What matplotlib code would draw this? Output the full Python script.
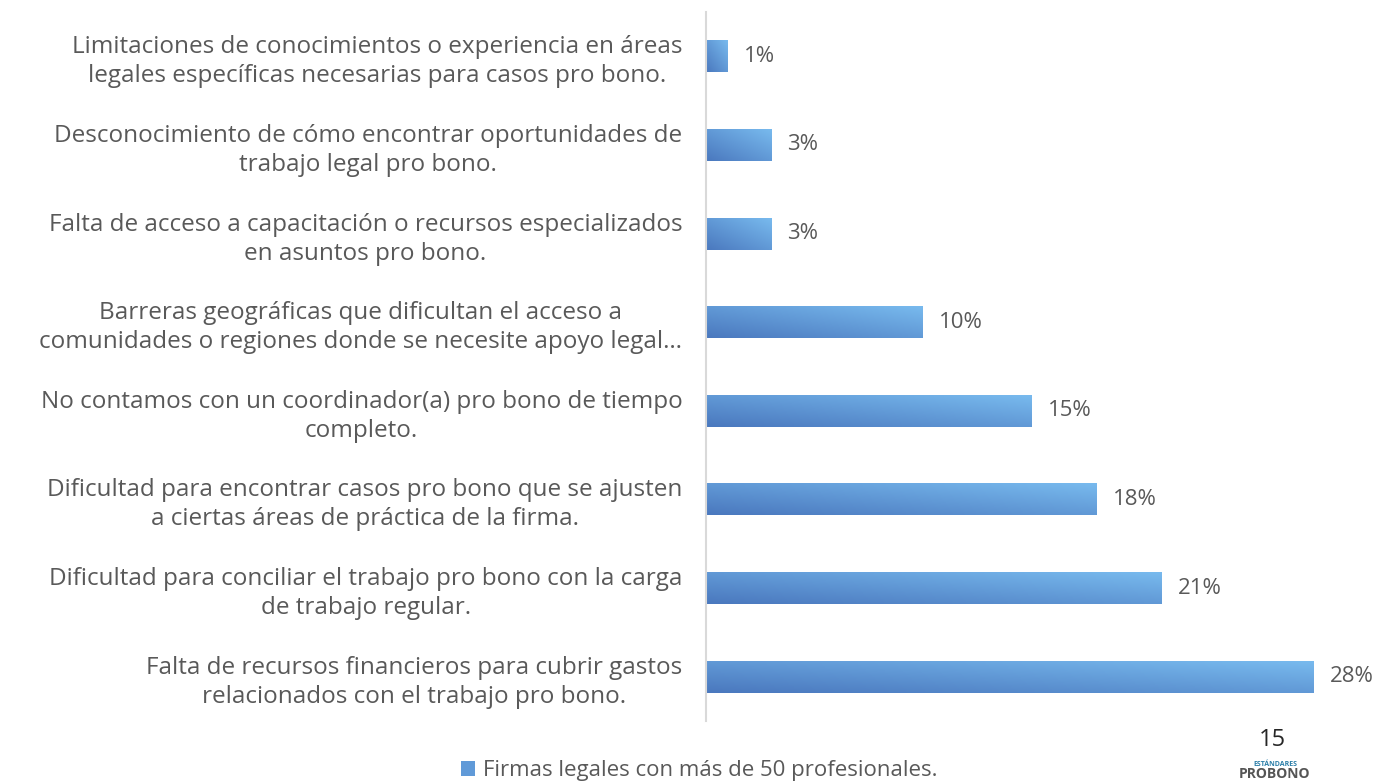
import numpy as np
import matplotlib.pyplot as plt
from matplotlib.patches import Patch
from matplotlib.colors import LinearSegmentedColormap

plt.rcParams['font.family'] = ['Open Sans', 'DejaVu Sans']

categories = [
    "Limitaciones de conocimientos o experiencia en áreas\nlegales específicas necesarias para casos pro bono.",
    "Desconocimiento de cómo encontrar oportunidades de\ntrabajo legal pro bono.",
    "Falta de acceso a capacitación o recursos especializados\nen asuntos pro bono.",
    "Barreras geográficas que dificultan el acceso a\ncomunidades o regiones donde se necesite apoyo legal…",
    "No contamos con un coordinador(a) pro bono de tiempo\ncompleto.",
    "Dificultad para encontrar casos pro bono que se ajusten\na ciertas áreas de práctica de la firma.",
    "Dificultad para conciliar el trabajo pro bono con la carga\nde trabajo regular.",
    "Falta de recursos financieros para cubrir gastos\nrelacionados con el trabajo pro bono.",
]
values = [1, 3, 3, 10, 15, 18, 21, 28]
series_name = "Firmas legales con más de 50 profesionales."

text_color = '#595959'
dark_blue = '#4A78BE'
light_blue = '#78BAEE'
grad = LinearSegmentedColormap.from_list('bar_grad', [dark_blue, light_blue])

fig = plt.figure(figsize=(13.79, 7.83), dpi=100)
ax = fig.add_axes([706 / 1379, 62 / 783, 651 / 1379, 709 / 783])

y = np.arange(len(categories))
bars = ax.barh(y, values, height=0.36, color='none', edgecolor='none')

# diagonal gradient inside each bar (dark bottom-left, light top-right)
u = np.linspace(0, 1, 200)
v = np.linspace(0, 1, 40)
U, V = np.meshgrid(u, v)
t = (U + (1 - V)) / 2
for b in bars:
    x0, y0 = b.get_x(), b.get_y()
    w, h = b.get_width(), b.get_height()
    im = ax.imshow(t, cmap=grad, aspect='auto', origin='upper',
                   extent=(x0, x0 + w, y0 + h, y0), vmin=0, vmax=1,
                   interpolation='bilinear')
    im.set_clip_path(b)

for b, val in zip(bars, values):
    ax.text(b.get_width() + 0.75, b.get_y() + b.get_height() / 2, f"{val}%",
            va='center', ha='left', fontsize=16, color=text_color)

ax.set_xlim(0, 30)
ax.set_ylim(len(categories) - 0.5, -0.5)
ax.set_yticks(y)
ax.set_yticklabels(categories, fontsize=17.5, color=text_color)
for lbl in ax.get_yticklabels():
    lbl.set_multialignment('center')
    lbl.set_linespacing(1.28)
ax.tick_params(axis='y', length=0, pad=17)
ax.set_xticks([])
for side in ['top', 'right', 'bottom']:
    ax.spines[side].set_visible(False)
ax.spines['left'].set_color('#D9D9D9')
ax.spines['left'].set_linewidth(1.5)

fig.legend(handles=[Patch(facecolor='#609AD8', edgecolor='none', label=series_name)],
           loc='center', bbox_to_anchor=(699 / 1379, 0.016), frameon=False,
           fontsize=16, handlelength=0.65, handleheight=0.65, handletextpad=0.35,
           labelcolor=text_color)

fig.text(1272 / 1379, 1 - 740 / 783, "15", ha='center', va='center',
         fontsize=17, color='#262626')
fig.text(1275 / 1379, 1 - 764 / 783, "ESTÁNDARES", ha='center', va='center',
         fontsize=5, color='#2B7EA8', fontweight='bold')
fig.text(1275 / 1379, 2 / 783, "PROBONO", ha='center', va='bottom',
         fontsize=10, color='#555555', fontweight='bold')

fig.savefig('out.png', dpi=100)
